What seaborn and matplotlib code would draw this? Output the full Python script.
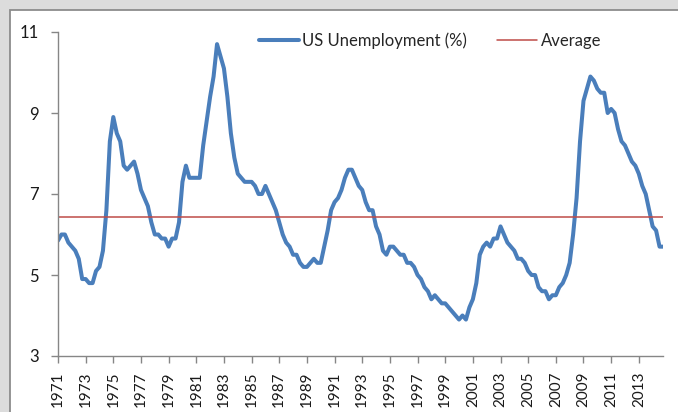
import numpy as np
import pandas as pd
import seaborn as sns
import matplotlib.pyplot as plt
from matplotlib.patches import Rectangle

sns.set_theme(style="white")
plt.rcParams['font.family'] = ['Lato', 'DejaVu Sans']

# quarterly US unemployment rate (%), first quarter of 1971 onwards
UNEMPLOYMENT = [
    5.85, 6.0, 6.0, 5.8,   5.7, 5.6, 5.4, 4.9,   4.9, 4.8, 4.8, 5.1,
    5.2, 5.6, 6.6, 8.3,    8.9, 8.5, 8.3, 7.7,   7.6, 7.7, 7.8, 7.5,
    7.1, 6.9, 6.7, 6.3,    6.0, 6.0, 5.9, 5.9,   5.7, 5.9, 5.9, 6.3,
    7.3, 7.7, 7.4, 7.4,    7.4, 7.4, 8.2, 8.8,   9.4, 9.9, 10.7, 10.4,
    10.1, 9.4, 8.5, 7.9,   7.5, 7.4, 7.3, 7.3,   7.3, 7.2, 7.0, 7.0,
    7.2, 7.0, 6.8, 6.6,    6.3, 6.0, 5.8, 5.7,   5.5, 5.5, 5.3, 5.2,
    5.2, 5.3, 5.4, 5.3,    5.3, 5.7, 6.1, 6.6,   6.8, 6.9, 7.1, 7.4,
    7.6, 7.6, 7.4, 7.2,    7.1, 6.8, 6.6, 6.6,   6.2, 6.0, 5.6, 5.5,
    5.7, 5.7, 5.6, 5.5,    5.5, 5.3, 5.3, 5.2,   5.0, 4.9, 4.7, 4.6,
    4.4, 4.5, 4.4, 4.3,    4.3, 4.2, 4.1, 4.0,   3.9, 4.0, 3.9, 4.2,
    4.4, 4.8, 5.5, 5.7,    5.8, 5.7, 5.9, 5.9,   6.2, 6.0, 5.8, 5.7,
    5.6, 5.4, 5.4, 5.3,    5.1, 5.0, 5.0, 4.7,   4.6, 4.6, 4.4, 4.5,
    4.5, 4.7, 4.8, 5.0,    5.3, 6.0, 6.9, 8.3,   9.3, 9.6, 9.9, 9.8,
    9.6, 9.5, 9.5, 9.0,    9.1, 9.0, 8.6, 8.3,   8.2, 8.0, 7.8, 7.7,
    7.5, 7.2, 7.0, 6.6,    6.2, 6.1, 5.7, 5.7,
]
TICK_YEARS = list(range(1971, 2015, 2))
Y_TICKS = [3, 5, 7, 9, 11]

BLUE = '#4a7ebb'
RED = '#be4b48'
AXIS_GREY = '#868686'
FONT_SIZE = 12

df = pd.DataFrame({'quarter': np.arange(len(UNEMPLOYMENT)), 'rate': UNEMPLOYMENT})
df['average'] = df['rate'].mean()

fig = plt.figure(figsize=(6.78, 4.12), dpi=100, facecolor='#dcdcdc')
# white chart area with the grey Excel-style frame
fig.patches.append(Rectangle((10 / 678, -0.1), 1.1, (412 - 10) / 412 + 0.1,
                             transform=fig.transFigure, facecolor='white',
                             edgecolor='#8c8c8c', linewidth=1.3, zorder=-5))

ax = fig.add_axes([58 / 678, 56 / 412, 605 / 678, 324 / 412])
ax.set_facecolor('none')
ax.set_zorder(2)

sns.lineplot(data=df, x='quarter', y='rate', ax=ax, color=BLUE, linewidth=2.9,
             label='US Unemployment (%)')
sns.lineplot(data=df, x='quarter', y='average', ax=ax, color=RED, linewidth=1.1,
             label='Average')

ax.set_xlim(0, len(UNEMPLOYMENT) - 1)
ax.set_ylim(3, 11)
ax.set_yticks(Y_TICKS)
ax.set_xticks([(y - 1971) * 4 for y in TICK_YEARS])
ax.set_xticklabels([str(y) for y in TICK_YEARS], rotation=90)
ax.set_xlabel('')
ax.set_ylabel('')

for side in ['top', 'right']:
    ax.spines[side].set_visible(False)
for side in ['left', 'bottom']:
    ax.spines[side].set_color(AXIS_GREY)
    ax.spines[side].set_linewidth(1.0)
ax.tick_params(axis='both', which='major', direction='out', length=5, width=1,
               color=AXIS_GREY, labelsize=FONT_SIZE, labelcolor='#1a1a1a',
               bottom=True, left=True)
ax.tick_params(axis='y', pad=9)
ax.tick_params(axis='x', pad=6, labelsize=11)
ax.grid(False)

ax.legend(loc='center left', bbox_to_anchor=(259 / 678, 1 - 41 / 412),
          bbox_transform=fig.transFigure, ncol=2, frameon=False,
          fontsize=FONT_SIZE, handlelength=2.4, handletextpad=0.2,
          columnspacing=1.8, borderpad=0, borderaxespad=0)

fig.savefig('out.png', dpi=100, facecolor=fig.get_facecolor())
